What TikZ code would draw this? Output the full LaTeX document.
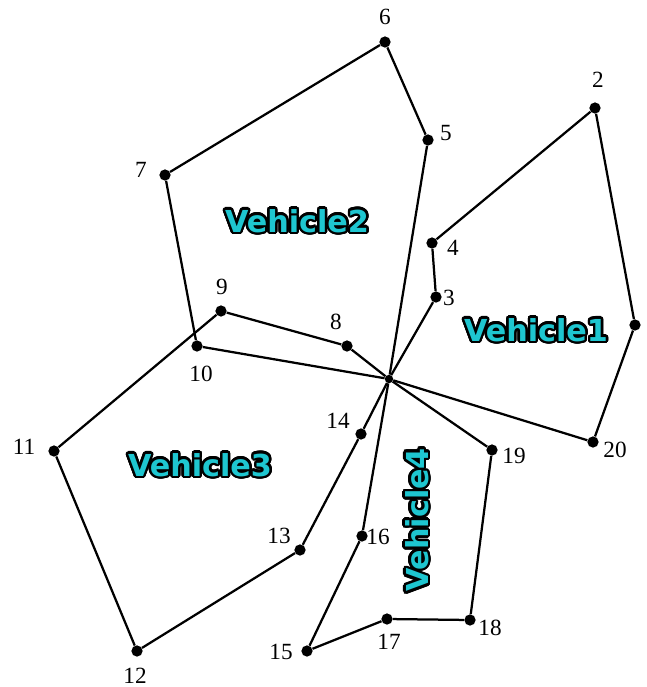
\documentclass[tikz,border=0pt]{standalone}
\usepackage{fontspec}
\setmainfont{Liberation Serif}
\newfontfamily\vehfont{DejaVu Sans}
\usepackage[copies]{contour}
\contourlength{1.7pt}
\contournumber{24}
\definecolor{vehcyan}{RGB}{30,198,208}

\begin{document}
\begin{tikzpicture}[x=0.025cm, y=-0.025cm,
  stop/.style={circle,fill,inner sep=0pt,minimum size=8pt},
  depot/.style={circle,fill,inner sep=0pt,minimum size=6pt},
  num/.style={font=\fontsize{16.5}{16.5}\selectfont, inner sep=0pt},
  veh/.style={font=\vehfont\bfseries\fontsize{21.5}{21.5}\selectfont, text=vehcyan, inner sep=0pt},
  route/.style={line width=1.6pt}]
  \useasboundingbox (0,0) rectangle (647,687);

  % customers and depot
  \node[depot] (d) at (389,379) {};
  \node[stop] (p1) at (635,325) {};
  \node[stop] (p2) at (595,108) {};
  \node[stop] (p3) at (436,297) {};
  \node[stop] (p4) at (432,243) {};
  \node[stop] (p5) at (428,140) {};
  \node[stop] (p6) at (385,42) {};
  \node[stop] (p7) at (165,175) {};
  \node[stop] (p8) at (347,346) {};
  \node[stop] (p9) at (221,311) {};
  \node[stop] (p10) at (197,346) {};
  \node[stop] (p11) at (54,451) {};
  \node[stop] (p12) at (137,651) {};
  \node[stop] (p13) at (300,550) {};
  \node[stop] (p14) at (361,434) {};
  \node[stop] (p15) at (307,651) {};
  \node[stop] (p16) at (362,536) {};
  \node[stop] (p17) at (387,619) {};
  \node[stop] (p18) at (470,620) {};
  \node[stop] (p19) at (492,450) {};
  \node[stop] (p20) at (593,442) {};

  % numbers
  \node[num] (t2) at (598,80) {2};
  \node[num] (t3) at (449,298) {3};
  \node[num] (t4) at (453,248) {4};
  \node[num] (t5) at (446,133) {5};
  \node[num] (t6) at (385,17) {6};
  \node[num] (t7) at (141,170) {7};
  \node[num] (t8) at (336,322) {8};
  \node[num] (t9) at (222,287) {9};
  \node[num] (t10) at (201,374) {10};
  \node[num] (t11) at (24,447) {11};
  \node[num] (t12) at (135,676) {12};
  \node[num] (t13) at (279,536) {13};
  \node[num] (t14) at (338,421) {14};
  \node[num] (t15) at (281,652) {15};
  \node[num] (t16) at (378,537) {16};
  \node[num] (t17) at (389,642) {17};
  \node[num] (t18) at (490,628) {18};
  \node[num] (t19) at (514,456) {19};
  \node[num] (t20) at (615,450) {20};

  % routes
  \draw[route] (d) -- (p3) -- (p4) -- (p2) -- (p1) -- (p20) -- (d);
  \draw[route] (d) -- (p5) -- (p6) -- (p7) -- (p10) -- (d);
  \draw[route] (d) -- (p8) -- (p9) -- (p11) -- (p12) -- (p13) -- (p14) -- (d);
  \draw[route] (d) -- (p16) -- (p15) -- (p17) -- (p18) -- (p19) -- (d);

  % vehicle names
  \node[veh] (v1) at (536,331) {\contour{black}{Vehicle1}};
  \node[veh] (v2) at (297,222) {\contour{black}{Vehicle2}};
  \node[veh] (v3) at (200,466) {\contour{black}{Vehicle3}};
  \node[veh, rotate=90] (v4) at (418,520) {\contour{black}{Vehicle4}};
\end{tikzpicture}
\end{document}
